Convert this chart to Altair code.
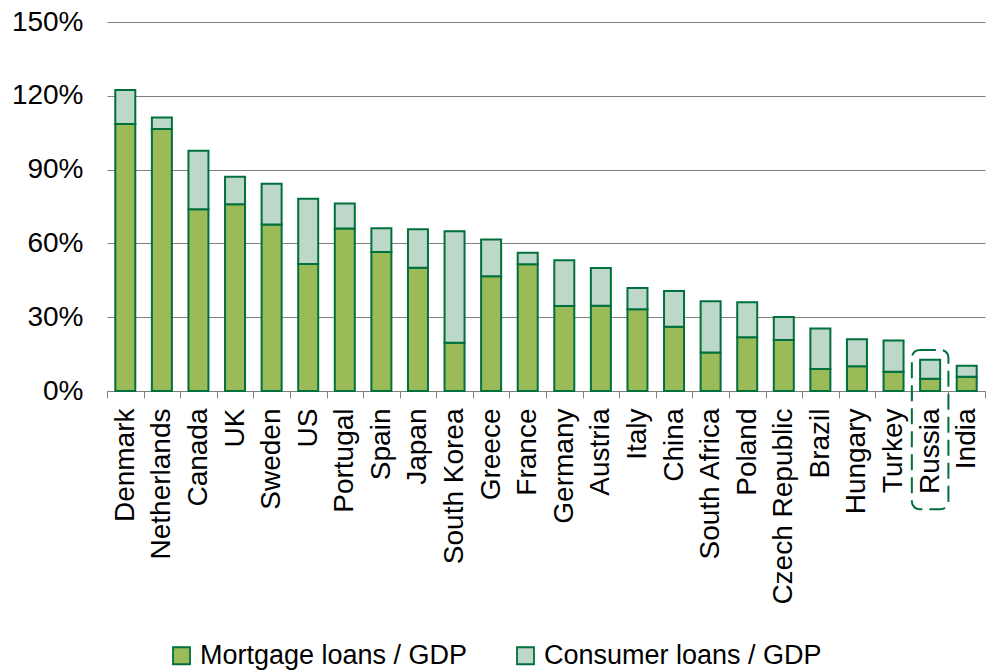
import altair as alt
import pandas as pd

countries = ["Denmark", "Netherlands", "Canada", "UK", "Sweden", "US", "Portugal",
             "Spain", "Japan", "South Korea", "Greece", "France", "Germany", "Austria",
             "Italy", "China", "South Africa", "Poland", "Czech Republic", "Brazil",
             "Hungary", "Turkey", "Russia", "India"]
mortgage = [108.5, 106.5, 73.9, 75.9, 67.7, 51.6, 66.1, 56.5, 50.1, 19.6, 46.6, 51.5,
            34.6, 34.7, 33.2, 26.1, 15.7, 21.8, 20.7, 8.9, 10.1, 7.8, 5.0, 5.8]
consumer = [13.9, 4.7, 23.8, 11.2, 16.5, 26.6, 10.1, 9.7, 15.7, 45.3, 15.0, 4.7,
            18.5, 15.3, 8.7, 14.6, 20.8, 14.3, 9.4, 16.5, 10.9, 12.7, 7.7, 4.5]
series = ["Mortgage loans / GDP", "Consumer loans / GDP"]
colors = ["#9BBB59", "#BDD7C9"]
highlight = ["Russia"]
highlight_top = [16.7]
highlight_bottom = [-48.1]
y_ticks = [0, 30, 60, 90, 120, 150]

rows = []
for i, c in enumerate(countries):
    rows.append({"country": c, "series": series[0], "value": mortgage[i], "ord": 0})
    rows.append({"country": c, "series": series[1], "value": consumer[i], "ord": 1})
df = pd.DataFrame(rows)
hl = pd.DataFrame({"country": highlight, "top": highlight_top, "bottom": highlight_bottom})

FONT = "Liberation Sans"
GREEN = "#00703C"

x_enc = alt.X("country:N", sort=countries,
              scale=alt.Scale(domain=countries, paddingInner=0, paddingOuter=0),
              axis=alt.Axis(title=None, labelAngle=-90, tickBand="extent",
                            labelFontSize=28, labelFont=FONT, labelColor="black",
                            labelPadding=10, tickSize=7, domainColor="#808080",
                            tickColor="#808080", grid=False, labelLimit=400))

bars = alt.Chart(df).mark_bar(width=20, stroke=GREEN, strokeWidth=2).encode(
    x=x_enc,
    y=alt.Y("value:Q", stack="zero",
            scale=alt.Scale(domain=[0, 150], nice=False),
            axis=alt.Axis(title=None, values=y_ticks, labelExpr="datum.value + '%'",
                          labelFontSize=28, labelFont=FONT, labelColor="black",
                          labelPadding=24, ticks=False, domain=False,
                          grid=True, gridColor="#808080", gridWidth=1.2)),
    color=alt.Color("series:N", sort=series,
                    scale=alt.Scale(domain=series, range=colors),
                    legend=alt.Legend(title=None, orient="none", direction="horizontal",
                                      legendX=61, legendY=620, padding=0,
                                      symbolType="square", symbolSize=289,
                                      symbolStrokeColor=GREEN, symbolStrokeWidth=1.8,
                                      labelFontSize=27, labelFont=FONT, labelColor="black",
                                      labelOffset=5, columnPadding=44, labelLimit=500)),
    order=alt.Order("ord:Q"),
)

box = alt.Chart(hl).mark_rect(fill="white", fillOpacity=0, stroke=GREEN, strokeWidth=2,
                              strokeDash=[16, 7], cornerRadius=8).encode(
    x=alt.X("country:N", sort=countries, scale=alt.Scale(domain=countries)),
    y=alt.Y("top:Q"),
    y2="bottom:Q",
)

chart = alt.layer(bars, box).properties(
    width=878, height=369, autosize="none", background="white",
    padding={"left": 107, "top": 22, "right": 5, "bottom": 279},
).configure_view(stroke=None)

chart.save("out.html", embed_options={"renderer": "svg", "actions": False})
